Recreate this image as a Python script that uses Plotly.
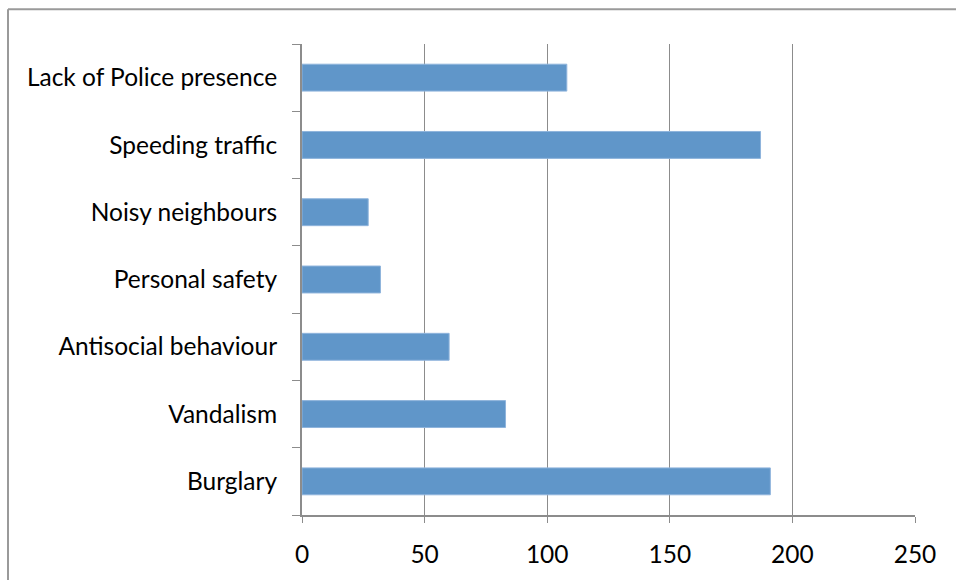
import plotly.graph_objects as go

categories = ["Burglary", "Vandalism", "Antisocial behaviour", "Personal safety",
              "Noisy neighbours", "Speeding traffic", "Lack of Police presence"]
values = [191, 83, 60, 32, 27, 187, 108]
x_ticks = [0, 50, 100, 150, 200, 250]

W, H = 956, 580
L, R, T, B = 302, 41, 44, 62

fig = go.Figure(go.Bar(
    y=categories, x=values, orientation="h",
    marker=dict(color="#6096C9", line=dict(color="#8FB4DC", width=1)),
))

fig.update_layout(
    width=W, height=H,
    margin=dict(l=L, r=R, t=T, b=B, pad=0),
    paper_bgcolor="white", plot_bgcolor="white",
    bargap=0.6, showlegend=False,
    font=dict(family="Lato, Open Sans, sans-serif", size=24.5, color="#000000"),
    xaxis=dict(range=[0, 250], tickvals=x_ticks, showgrid=True, gridcolor="#8C8C8C",
               gridwidth=1.3, showline=True, linecolor="#8C8C8C", linewidth=2,
               ticks="outside", ticklen=6, tickcolor="#8C8C8C", tickwidth=1.3,
               zeroline=False, ticklabelstandoff=11, fixedrange=True),
    yaxis=dict(type="category", categoryorder="array", categoryarray=categories,
               showline=True, linecolor="#8C8C8C", linewidth=2,
               ticks="outside", ticklen=8, tickcolor="#8C8C8C", tickwidth=1.3,
               tickson="boundaries", showgrid=False, ticklabelstandoff=18,
               range=[-0.5, 6.5], fixedrange=True),
)

# outer chart border: only top and left edges are visible in the frame
pw, ph = W - L - R, H - T - B
bx0 = (8 - L) / pw
bx1 = (W + 40 - L) / pw
by_top = 1 + (T - 9) / ph
by_bot = -(B + 40) / ph
fig.add_shape(type="line", xref="paper", yref="paper", x0=bx0, x1=bx1, y0=by_top, y1=by_top,
              line=dict(color="#9A9A9A", width=2), layer="below")
fig.add_shape(type="line", xref="paper", yref="paper", x0=bx0, x1=bx0, y0=by_bot, y1=by_top,
              line=dict(color="#9A9A9A", width=2), layer="below")

fig.write_html("out.html", config={"displayModeBar": False},
               post_script="document.body.style.margin='0';document.body.style.overflow='hidden';")
